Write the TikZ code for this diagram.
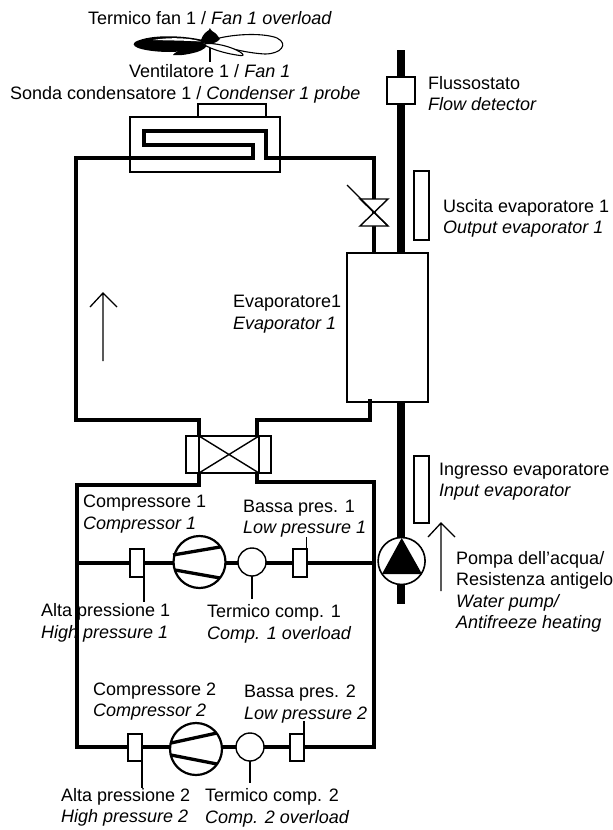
\documentclass[tikz,border=0pt]{standalone}
\usepackage{fontspec}
\setmainfont{Liberation Sans}
\begin{document}
\begin{tikzpicture}[x=1pt,y=-1pt,
  pipe/.style={line width=4pt,line cap=butt,line join=miter},
  branch/.style={line width=3.3pt},
  water/.style={line width=8pt},
  thin box/.style={draw,line width=1.3pt,fill=white,minimum width=0pt},
  part/.style={draw,line width=1.4pt},
  lead/.style={line width=1.1pt},
  arrowline/.style={line width=1.3pt},
  lab/.style={anchor=west,align=left,inner sep=0pt,font=\fontsize{18}{21.5}\selectfont}]
\useasboundingbox (0,0) rectangle (613,830);
% named anchors
\coordinate (pipeTop) at (401,50);
\coordinate (pipeBot) at (401,604);
% water pipe
\draw[water] (pipeTop) -- (pipeBot);
% refrigerant circuit
\draw[pipe] (199,436) -- (199,420) -- (76,420) -- (76,158) -- (253,158) -- (253,145) -- (144,145) -- (144,131) -- (266,131) -- (266,158) -- (374,158) -- (374,253);
\draw[pipe] (257,436) -- (257,420) -- (370,420) -- (370,399);
\draw[pipe] (199,473) -- (199,485) -- (77,485) -- (77,747) -- (374,747) -- (374,482) -- (257,482) -- (257,473);
% upper branch
\draw[branch] (77,563) -- (374,563);
% condenser
\draw[part] (130,117) rectangle (280,172);
\draw[part] (198,104) rectangle (266,117);
% valve
\draw[part,fill=white] (360,199) -- (388,199) -- (360,226) -- (388,226) -- cycle;
\draw[part] (347,185) -- (388,226);
% flow detector
\node[thin box,inner sep=0pt,minimum width=28pt,minimum height=27pt] (flow) at (401,90.5) {};
% evaporator
\node[part,fill=white,inner sep=0pt,minimum width=81pt,minimum height=149pt] (evap) at (387.5,327.5) {};
\draw[pipe] (370,399) -- (370,420);
% sensors on pipe
\draw[part,fill=white] (414,171) rectangle (429,240);
\draw[part,fill=white] (414,456) rectangle (429,523);
% four-way valve
\draw[part,fill=white] (186,436) rectangle (271,473);
\draw[part] (199,436) -- (199,473) (259,436) -- (259,473);
\draw[part] (199,436) -- (259,473) (199,473) -- (259,436);
% compressor 1 line components
\draw[part,fill=white] (130,549) rectangle (144,577);
\draw[lead] (144,577) -- (144,602);
\draw[line width=2.2pt,fill=white] (199.5,562) circle (26);
\draw[branch] (173,555) -- (220,547) (175,570) -- (220,578);
\draw[part,fill=white] (252,562) circle (14);
\draw[lead] (252,576) -- (252,599);
\draw[part,fill=white] (293,549) rectangle (307,577);
\draw[lead] (306.5,549) -- (306.5,537);
% compressor 2 line components
\draw[part,fill=white] (128,734) rectangle (142,761);
\draw[lead] (142,761) -- (142,788);
\draw[line width=2.2pt,fill=white] (196,749) circle (26);
\draw[branch] (171,743) -- (217,733) (171,755) -- (217,764);
\draw[part,fill=white] (250,747) circle (14);
\draw[lead] (250,761) -- (250,783);
\draw[part,fill=white] (290,734) rectangle (304,761);
\draw[lead] (304,734) -- (304,721);
% pump
\draw[line width=1.6pt,fill=white] (401.6,561) circle (23.5);
\fill (401.7,538) -- (422,574) -- (382,574) -- cycle;
% arrows
\draw[arrowline] (441,591) -- (441,523) (428,537) -- (441,523) -- (455,537);
\draw[arrowline] (103,361) -- (103,293) (90,307) -- (103,293) -- (117,307);
% fan
\draw[lead] (210,44) -- (210,62);
\draw[line width=1.1pt,fill=white] (207,42) .. controls (225,34) and (262,32) .. (277,38) .. controls (289,44) and (281,54) .. (265,54) .. controls (245,53) and (225,47) .. (207,42) -- cycle;
\fill (207,41) .. controls (185,35) and (150,34) .. (135,42) .. controls (128,48) and (150,52) .. (170,52) .. controls (185,52) and (200,47) .. (207,41) -- cycle;
\fill[white] (153,40) .. controls (170,37) and (190,38) .. (201,41.5) .. controls (185,40.5) and (170,40.5) .. (153,40) -- cycle;
\fill (207,43) .. controls (195,44) and (176,50) .. (173,55) .. controls (180,56) and (190,54) .. (197,52) .. controls (203,50) and (208,47) .. (207,43) -- cycle;
\draw[line width=1.1pt,fill=white] (203,44) .. controls (215,42) and (232,47) .. (240,52) .. controls (245,55) and (243,56) .. (240,55.5) .. controls (228,54) and (212,50) .. (203,44) -- cycle;
\fill (201,40) .. controls (203,34) and (206,32) .. (209,30) .. controls (209,29) and (210,28) .. (210,28) .. controls (210,29) and (211,30) .. (212,31) .. controls (216,33) and (218,36) .. (220,39) .. controls (215,45) and (205,45) .. (201,40) -- cycle;
% labels
\node[lab] (t1) at (88,18) {Termico fan 1 / \textit{Fan 1 overload}};
\node[lab] (t2) at (129,71) {Ventilatore 1 / \textit{Fan 1}};
\node[lab] (t3) at (10,94.5) {Sonda condensatore 1 / \textit{Condenser 1 probe}};
\node[lab] (t4) at (428,93.5) {Flussostato\\\textit{Flow detector}};
\node[lab] (t5) at (443,218.5) {Uscita evaporatore 1\\\textit{Output evaporator 1}};
\node[lab] (t6) at (233,314) {Evaporatore1\\\textit{Evaporator 1}};
\node[lab] (t7) at (439,481.5) {Ingresso evaporatore\\\textit{Input evaporator}};
\node[lab] (t8) at (456,592) {Pompa dell’acqua/\\Resistenza antigelo\\\textit{Water pump/}\\\textit{Antifreeze heating}};
\node[lab] (t9) at (83,514) {Compressore 1\\\textit{Compressor 1}};
\node[lab] (t10) at (243,518.5) {Bassa pres. 1\\\textit{Low pressure 1}};
\node[lab] (t11) at (41,623) {Alta pressione 1\\\textit{High pressure 1}};
\node[lab] (t12) at (207,624) {Termico comp. 1\\\textit{Comp. 1 overload}};
\node[lab] (t13) at (93,701.5) {Compressore 2\\\textit{Compressor 2}};
\node[lab] (t14) at (244,704) {Bassa pres. 2\\\textit{Low pressure 2}};
\node[lab] (t15) at (61,807.5) {Alta pressione 2\\\textit{High pressure 2}};
\node[lab] (t16) at (205,808) {Termico comp. 2\\\textit{Comp. 2 overload}};
\end{tikzpicture}
\end{document}
